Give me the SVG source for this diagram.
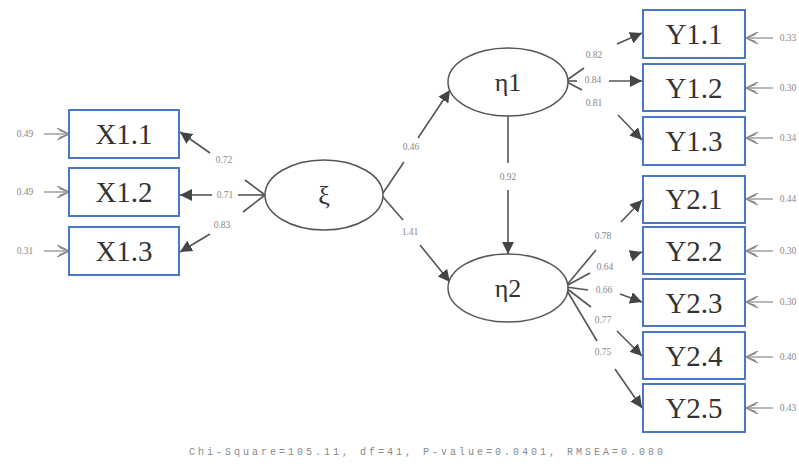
<svg xmlns="http://www.w3.org/2000/svg" width="799" height="470" viewBox="0 0 799 470">
<style>
.box{fill:#fff;stroke:#4a78c8;stroke-width:2}
.ell{fill:#fff;stroke:#555;stroke-width:1.5}
.bt{font-family:"Liberation Serif",serif;font-size:29px;fill:#333;text-anchor:middle}
.lt{font-family:"Liberation Serif",serif;font-size:26px;fill:#333;text-anchor:middle}
.c{stroke:#555;stroke-width:1.6;fill:none}
.e{stroke:#888;stroke-width:1.2;fill:none}
.lb{font-family:"Liberation Serif",serif;font-size:9.5px;fill:#888;text-anchor:middle}
.ft{font-family:"Liberation Mono",monospace;font-size:10px;fill:#888}
</style>
<defs>
<marker id="ah" viewBox="0 0 10 10" refX="10" refY="5" markerWidth="12" markerHeight="12" markerUnits="userSpaceOnUse" orient="auto">
<path d="M0,0 L10,5 L0,10 z" fill="#444"/>
</marker>
<marker id="oh" viewBox="0 0 10 10" refX="10" refY="5" markerWidth="12" markerHeight="12" markerUnits="userSpaceOnUse" orient="auto">
<path d="M0,0 L10,5 L0,10 M2,2 L10,5 L2,8" fill="none" stroke="#888" stroke-width="1.1"/>
</marker>
</defs>
<rect width="799" height="470" fill="#fff"/>
<g id="connectors">
<line class="c" x1="265" y1="195" x2="245" y2="180"/><line class="c" x1="210" y1="153" x2="180" y2="132" marker-end="url(#ah)"/>
<line class="c" x1="265" y1="195" x2="238" y2="195"/><line class="c" x1="212" y1="195" x2="180" y2="195" marker-end="url(#ah)"/>
<line class="c" x1="265" y1="195" x2="243" y2="212"/><line class="c" x1="210" y1="234" x2="180" y2="252" marker-end="url(#ah)"/>
<line class="c" x1="383" y1="193" x2="404" y2="162"/><line class="c" x1="418" y1="138" x2="450" y2="90" marker-end="url(#ah)"/>
<line class="c" x1="383" y1="197" x2="403" y2="220"/><line class="c" x1="420" y1="245" x2="450" y2="282" marker-end="url(#ah)"/>
<line class="c" x1="508" y1="116" x2="508" y2="163"/><line class="c" x1="508" y1="190" x2="508" y2="254" marker-end="url(#ah)"/>
<line class="c" x1="567" y1="80" x2="584" y2="68"/><line class="c" x1="617" y1="44" x2="642" y2="33" marker-end="url(#ah)"/>
<line class="c" x1="567" y1="81" x2="577" y2="81"/><line class="c" x1="609" y1="81" x2="642" y2="81" marker-end="url(#ah)"/>
<line class="c" x1="567" y1="82" x2="582" y2="90"/><line class="c" x1="618" y1="115" x2="642" y2="140" marker-end="url(#ah)"/>
<line class="c" x1="566" y1="286" x2="596" y2="250"/><line class="c" x1="621" y1="222" x2="642" y2="200" marker-end="url(#ah)"/>
<line class="c" x1="566" y1="286" x2="590" y2="273"/><line class="c" x1="630" y1="256" x2="642" y2="252" marker-end="url(#ah)"/>
<line class="c" x1="566" y1="287" x2="588" y2="290"/><line class="c" x1="620" y1="294" x2="642" y2="302" marker-end="url(#ah)"/>
<line class="c" x1="566" y1="288" x2="591" y2="307"/><line class="c" x1="617" y1="331" x2="642" y2="356" marker-end="url(#ah)"/>
<line class="c" x1="566" y1="289" x2="597" y2="341"/><line class="c" x1="615" y1="369" x2="642" y2="408" marker-end="url(#ah)"/>
<line class="e" x1="44" y1="134" x2="69" y2="134" marker-end="url(#oh)"/>
<line class="e" x1="44" y1="192" x2="69" y2="192" marker-end="url(#oh)"/>
<line class="e" x1="44" y1="251" x2="69" y2="251" marker-end="url(#oh)"/>
<line class="e" x1="773" y1="38" x2="746" y2="38" marker-end="url(#oh)"/>
<line class="e" x1="773" y1="88" x2="746" y2="88" marker-end="url(#oh)"/>
<line class="e" x1="773" y1="138" x2="746" y2="138" marker-end="url(#oh)"/>
<line class="e" x1="773" y1="199" x2="746" y2="199" marker-end="url(#oh)"/>
<line class="e" x1="773" y1="251" x2="746" y2="251" marker-end="url(#oh)"/>
<line class="e" x1="773" y1="302" x2="746" y2="302" marker-end="url(#oh)"/>
<line class="e" x1="773" y1="357" x2="746" y2="357" marker-end="url(#oh)"/>
<line class="e" x1="773" y1="408" x2="746" y2="408" marker-end="url(#oh)"/>
</g>
<g id="labels">
<text class="lb" x="224" y="163">0.72</text>
<text class="lb" x="225" y="198">0.71</text>
<text class="lb" x="222" y="228">0.83</text>
<text class="lb" x="411" y="150">0.46</text>
<text class="lb" x="410" y="235">1.41</text>
<text class="lb" x="508" y="180">0.92</text>
<text class="lb" x="594" y="58">0.82</text>
<text class="lb" x="593" y="83">0.84</text>
<text class="lb" x="594" y="106">0.81</text>
<text class="lb" x="603" y="239">0.78</text>
<text class="lb" x="605" y="270">0.64</text>
<text class="lb" x="604" y="293">0.66</text>
<text class="lb" x="603" y="323">0.77</text>
<text class="lb" x="603" y="355">0.75</text>
<text class="lb" x="25" y="137">0.49</text>
<text class="lb" x="25" y="195">0.49</text>
<text class="lb" x="25" y="254">0.31</text>
<text class="lb" x="788" y="41">0.33</text>
<text class="lb" x="788" y="91">0.30</text>
<text class="lb" x="788" y="141">0.34</text>
<text class="lb" x="788" y="202">0.44</text>
<text class="lb" x="788" y="254">0.30</text>
<text class="lb" x="788" y="305">0.30</text>
<text class="lb" x="788" y="360">0.40</text>
<text class="lb" x="788" y="411">0.43</text>
</g>
<g id="X1.1"><rect class="box" x="69" y="110" width="110" height="48"/><text class="bt" x="124" y="144">X1.1</text></g>
<g id="X1.2"><rect class="box" x="69" y="168" width="110" height="48"/><text class="bt" x="124" y="202">X1.2</text></g>
<g id="X1.3"><rect class="box" x="69" y="227" width="110" height="48"/><text class="bt" x="124" y="261">X1.3</text></g>
<g id="xi"><ellipse class="ell" cx="324" cy="195" rx="59" ry="35"/><text class="lt" x="324" y="204">ξ</text></g>
<g id="eta1"><ellipse class="ell" cx="508" cy="82" rx="60" ry="34"/><text class="lt" x="508" y="91">η1</text></g>
<g id="eta2"><ellipse class="ell" cx="508" cy="288" rx="60" ry="34"/><text class="lt" x="508" y="297">η2</text></g>
<g id="Y1.1"><rect class="box" x="643" y="10" width="102" height="48"/><text class="bt" x="694" y="44">Y1.1</text></g>
<g id="Y1.2"><rect class="box" x="643" y="64" width="102" height="47"/><text class="bt" x="694" y="98">Y1.2</text></g>
<g id="Y1.3"><rect class="box" x="643" y="117" width="102" height="48"/><text class="bt" x="694" y="151">Y1.3</text></g>
<g id="Y2.1"><rect class="box" x="643" y="176" width="102" height="47"/><text class="bt" x="694" y="209">Y2.1</text></g>
<g id="Y2.2"><rect class="box" x="643" y="227" width="102" height="47"/><text class="bt" x="694" y="261">Y2.2</text></g>
<g id="Y2.3"><rect class="box" x="643" y="279" width="102" height="47"/><text class="bt" x="694" y="313">Y2.3</text></g>
<g id="Y2.4"><rect class="box" x="643" y="332" width="102" height="47"/><text class="bt" x="694" y="366">Y2.4</text></g>
<g id="Y2.5"><rect class="box" x="643" y="384" width="102" height="48"/><text class="bt" x="694" y="418">Y2.5</text></g>
<text class="ft" x="189" y="455" textLength="474" lengthAdjust="spacing">Chi-Square=105.11, df=41, P-value=0.0401, RMSEA=0.080</text>
</svg>
